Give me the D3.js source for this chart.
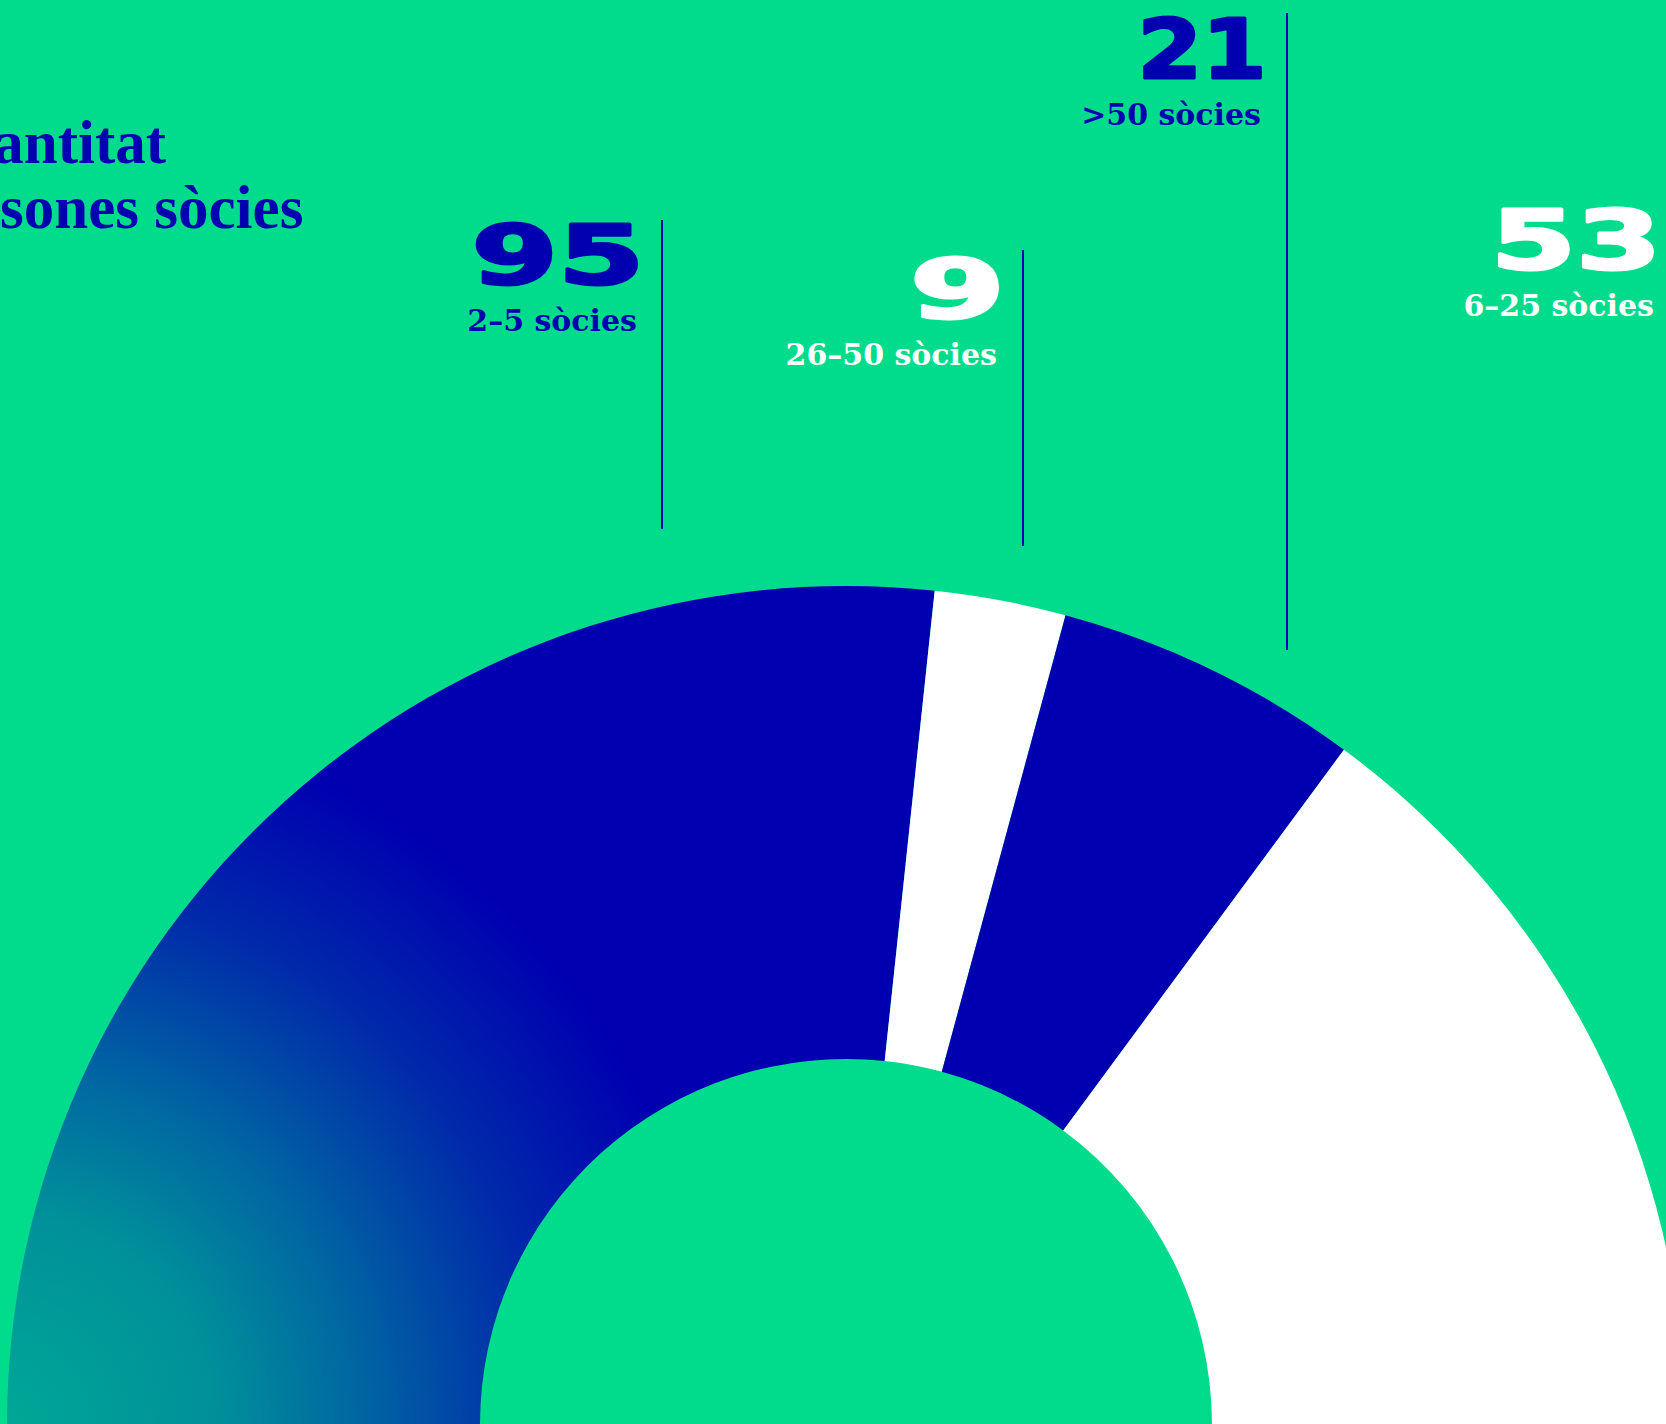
<!DOCTYPE html>
<html>
<head>
<meta charset="utf-8">
<script src="https://cdn.jsdelivr.net/npm/d3@7"></script>
<style>
  html, body { margin: 0; padding: 0; background: #00DC8C; overflow: hidden; }
  svg { display: block; }
</style>
</head>
<body>
<svg id="chart" width="1666" height="1424"></svg>
<script>
// ---- data ----
const categories = ["2–5 sòcies", "26–50 sòcies", ">50 sòcies", "6–25 sòcies"];
const values = [95, 9, 21, 53];
const titleLines = ["Quantitat", "persones sòcies"];

// ---- layout / style (not data) ----
const W = 1666, H = 1424;
const BG = "#00DC8C", BLUE = "#0000B0", WHITE = "#FFFFFF";
const cx = 846, cy = 1425, outerR = 839, innerR = 366;
const sliceFill = ["url(#grad95)", WHITE, BLUE, WHITE];
const labelColor = [BLUE, WHITE, BLUE, WHITE];
// annotation placement: right edge of text, top of number, number ink width, leader line
const labelLayout = [
  { right: 637, numTop: 224, inkW: 158, line: { x: 662, y1: 220, y2: 529 } },
  { right: 997, numTop: 258, inkW: 79,  line: { x: 1023, y1: 250, y2: 546 } },
  { right: 1261, numTop: 18, inkW: 118, line: { x: 1287, y1: 13, y2: 650 } },
  { right: 1654, numTop: 209, inkW: 156, line: null }
];

const svg = d3.select("#chart");
svg.append("rect").attr("width", W).attr("height", H).attr("fill", BG);

const defs = svg.append("defs");
// gradient in the donut group's coordinates (origin at the donut centre)
const grad = defs.append("radialGradient")
  .attr("id", "grad95")
  .attr("gradientUnits", "userSpaceOnUse")
  .attr("cx", 0 - cx).attr("cy", H - cy).attr("r", 720);
[["0%", "#00A896"], ["30%", "#00909A"], ["50%", "#0066A2"], ["75%", "#002AAA"], ["100%", BLUE]]
  .forEach(([o, c]) => grad.append("stop").attr("offset", o).attr("stop-color", c));

// ---- half donut ----
const pie = d3.pie().sort(null).value(d => d)
  .startAngle(-Math.PI / 2).endAngle(Math.PI / 2);
const arc = d3.arc().innerRadius(innerR).outerRadius(outerR);

const g = svg.append("g").attr("transform", `translate(${cx},${cy})`);
g.selectAll("path.slice")
  .data(pie(values))
  .join("path")
  .attr("class", "slice")
  .attr("d", arc)
  .attr("fill", (d, i) => sliceFill[i]);

// ---- title (runs off the left edge, as in the reference) ----
const title = svg.append("text")
  .attr("font-family", "'Liberation Serif', serif")
  .attr("font-weight", 700)
  .attr("font-size", 61)
  .attr("fill", BLUE);
titleLines.forEach((t, i) => {
  title.append("tspan").attr("x", -88).attr("y", 163 + i * 65).text(t);
});

// ---- annotations ----
const NUM_FS = 82;
const capH = NUM_FS * 0.729;
values.forEach((v, i) => {
  const L = labelLayout[i];
  const baseY = L.numTop + capH;
  const num = svg.append("text")
    .attr("font-family", "'DejaVu Sans', sans-serif")
    .attr("font-weight", 700)
    .attr("font-size", NUM_FS)
    .attr("fill", labelColor[i])
    .attr("stroke", labelColor[i])
    .attr("stroke-width", 3)
    .attr("stroke-linejoin", "round")
    .attr("text-anchor", "end")
    .text(String(v));
  const bb = num.node().getBBox();
  const bear = NUM_FS * 0.06;
  const sx = L.inkW / Math.max(1, bb.width - 2 * bear);
  num.attr("transform", `translate(${L.right + bear * sx},${baseY}) scale(${sx},1)`);

  svg.append("text")
    .attr("x", L.right)
    .attr("y", baseY + 47)
    .attr("text-anchor", "end")
    .attr("font-family", "'DejaVu Serif', serif")
    .attr("font-weight", 700)
    .attr("font-size", 30)
    .attr("fill", labelColor[i])
    .text(categories[i]);

  if (L.line) {
    svg.append("line")
      .attr("x1", L.line.x).attr("x2", L.line.x)
      .attr("y1", L.line.y1).attr("y2", L.line.y2)
      .attr("stroke", BLUE).attr("stroke-width", 2);
  }
});
</script>
</body>
</html>
